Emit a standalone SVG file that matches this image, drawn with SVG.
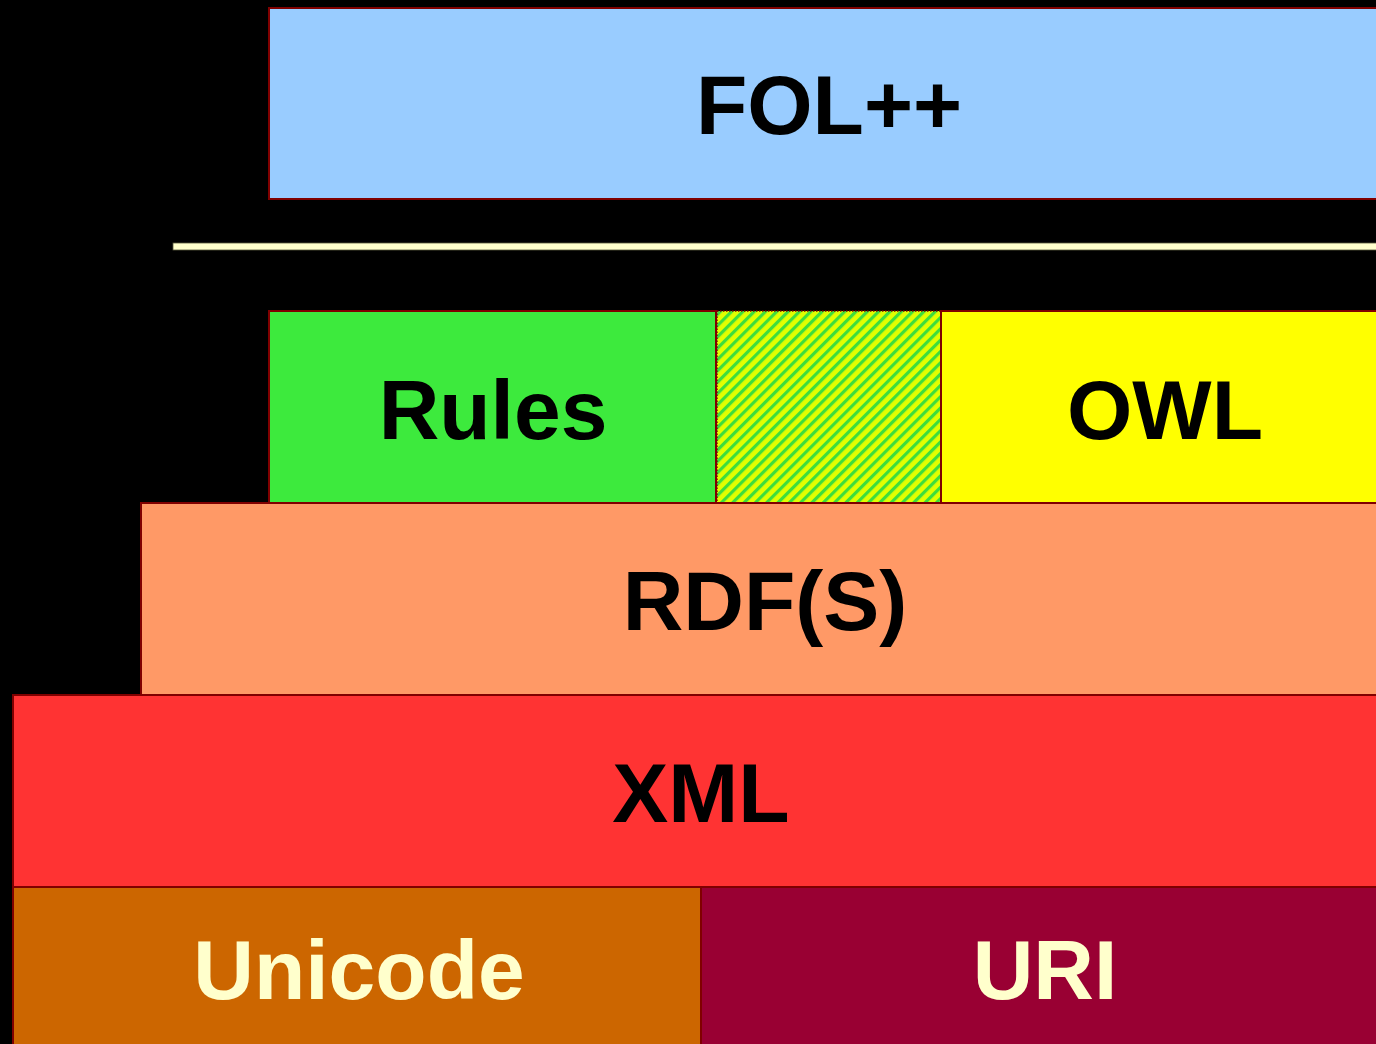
<svg xmlns="http://www.w3.org/2000/svg" width="1376" height="1044" viewBox="0 0 1376 1044">
<style>
.box{stroke:#800000;stroke-width:2}
.lbl{font-family:"Liberation Sans",Arial,sans-serif;font-weight:bold;font-size:84px;text-anchor:middle;fill:#000}
.light{fill:#ffffcc}
</style>
<defs>
<pattern id="hatch" patternUnits="userSpaceOnUse" width="8" height="8" patternTransform="rotate(45)">
<rect width="8" height="8" fill="#e2ff00"/>
<rect width="3.2" height="8" fill="#3ddd3d"/>
</pattern>
</defs>
<rect width="1376" height="1044" fill="#000"/>
<g id="fol">
<rect class="box" x="269" y="8" width="1120" height="191" fill="#99ccff"/>
<text class="lbl" x="829" y="134">FOL++</text>
</g>
<g id="connectors">
<rect x="173" y="243" width="1210" height="7" fill="#ffffcc" stroke="#55553a" stroke-width="0.8"/>
</g>
<g id="rules">
<rect class="box" x="269" y="311" width="447" height="192" fill="#3dea3d"/>
<text class="lbl" x="493" y="439">Rules</text>
</g>
<g id="overlap">
<rect x="717" y="311" width="224" height="192" fill="url(#hatch)" stroke="#800000" stroke-width="1.5" stroke-dasharray="1.5,1.5"/>
</g>
<g id="owl">
<rect class="box" x="941" y="311" width="450" height="192" fill="#ffff00"/>
<text class="lbl" x="1165" y="439">OWL</text>
</g>
<g id="rdfs">
<rect class="box" x="141" y="503" width="1250" height="192" fill="#ff9966"/>
<text class="lbl" x="765" y="630">RDF(S)</text>
</g>
<g id="xml">
<rect class="box" x="13" y="695" width="1378" height="192" fill="#ff3333"/>
<text class="lbl" x="701" y="822">XML</text>
</g>
<g id="unicode">
<rect class="box" x="13" y="887" width="688" height="170" fill="#cc6600"/>
<text class="lbl light" x="359" y="999">Unicode</text>
</g>
<g id="uri">
<rect class="box" x="701" y="887" width="690" height="170" fill="#990033"/>
<text class="lbl light" x="1045" y="999">URI</text>
</g>
</svg>
